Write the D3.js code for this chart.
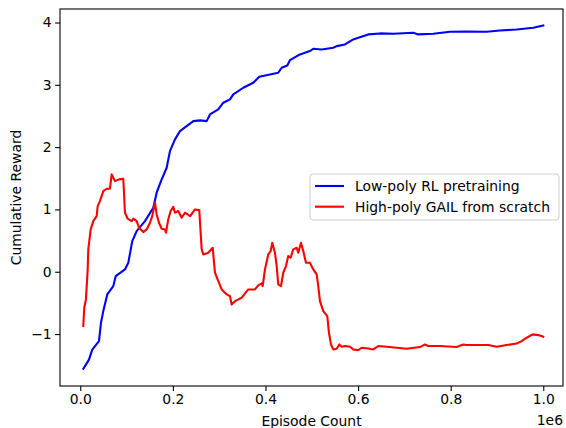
<!DOCTYPE html>
<html>
<head>
<meta charset="utf-8">
<script src="https://cdn.jsdelivr.net/npm/d3@7"></script>
<style>
  body { margin: 0; background: #fff; }
  svg text { font-family: "DejaVu Sans", sans-serif; fill: #000; }
</style>
</head>
<body>
<script>
// Episode count (x, in units of 1e6) and cumulative reward
const lowPolyX = [0.0065, 0.0188, 0.0259, 0.0404, 0.0447, 0.0497, 0.0583, 0.0713, 0.0765, 0.0965,
  0.1037, 0.1123, 0.1218, 0.1397, 0.1577, 0.165, 0.1743, 0.1866, 0.1937, 0.2045,
  0.2153, 0.2441, 0.2585, 0.273, 0.2801, 0.298, 0.3089, 0.3233, 0.3305, 0.352,
  0.3737, 0.3866, 0.4276, 0.435, 0.4471, 0.4529, 0.4745, 0.4961, 0.5032, 0.5214,
  0.5464, 0.5538, 0.5717, 0.5896, 0.6004, 0.622, 0.6473, 0.676, 0.7192, 0.73,
  0.7624, 0.7985, 0.8345, 0.8777, 0.9065, 0.9425, 0.9784, 1.0];
const lowPolyY = [-1.557, -1.41, -1.25, -1.114, -0.819, -0.632, -0.364, -0.231, -0.071, 0.037,
  0.144, 0.491, 0.652, 0.812, 1.027, 1.268, 1.454, 1.669, 1.936, 2.124,
  2.257, 2.417, 2.429, 2.417, 2.525, 2.605, 2.713, 2.766, 2.846, 2.953,
  3.034, 3.13, 3.194, 3.274, 3.311, 3.396, 3.488, 3.541, 3.579, 3.568,
  3.595, 3.621, 3.648, 3.729, 3.756, 3.809, 3.825, 3.82, 3.836, 3.809,
  3.82, 3.852, 3.857, 3.852, 3.873, 3.889, 3.916, 3.953];

const highPolyX = [0.0065, 0.0086, 0.0123, 0.016, 0.0173, 0.0225, 0.0281, 0.0354, 0.0376, 0.0425,
  0.0497, 0.057, 0.0641, 0.0678, 0.0713, 0.0749, 0.0836, 0.0929, 0.0965, 0.1024,
  0.111, 0.1145, 0.1218, 0.1268, 0.1361, 0.1434, 0.1505, 0.1555, 0.1613, 0.165,
  0.17, 0.1758, 0.1829, 0.1851, 0.19, 0.1952, 0.2009, 0.2045, 0.2117, 0.219,
  0.2261, 0.2374, 0.2477, 0.257, 0.2622, 0.2657, 0.2765, 0.286, 0.2909, 0.2981,
  0.3054, 0.3162, 0.3233, 0.327, 0.3341, 0.3486, 0.3628, 0.3773, 0.3844, 0.3918,
  0.394, 0.3989, 0.406, 0.4112, 0.4147, 0.4205, 0.4242, 0.4276, 0.4335, 0.4384,
  0.4443, 0.4492, 0.4544, 0.46, 0.4674, 0.4708, 0.4767, 0.4816, 0.4875, 0.4961,
  0.5032, 0.5106, 0.514, 0.5177, 0.5248, 0.5335, 0.5371, 0.5415, 0.5464, 0.5538,
  0.5594, 0.5646, 0.5717, 0.5825, 0.5896, 0.6004, 0.6078, 0.622, 0.6328, 0.6436,
  0.6618, 0.705, 0.7337, 0.7445, 0.7516, 0.7769, 0.8129, 0.8272, 0.8345, 0.8812,
  0.8993, 0.9209, 0.9425, 0.9533, 0.9641, 0.9771, 0.9892, 1.0];
const highPolyY = [-0.873, -0.578, -0.44, 0.037, 0.358, 0.679, 0.812, 0.893, 1.053, 1.134,
  1.294, 1.332, 1.332, 1.562, 1.509, 1.454, 1.482, 1.493, 0.947, 0.851,
  0.812, 0.851, 0.812, 0.706, 0.636, 0.679, 0.786, 0.893, 1.107, 0.92,
  0.786, 0.69, 0.679, 0.626, 0.84, 0.974, 1.043, 0.947, 0.974, 0.867,
  0.947, 0.893, 1.0, 0.989, 0.358, 0.278, 0.305, 0.385, -0.016, -0.151,
  -0.284, -0.364, -0.392, -0.525, -0.472, -0.417, -0.284, -0.284, -0.22, -0.188,
  -0.231, 0.037, 0.278, 0.331, 0.465, 0.305, 0.091, -0.204, -0.231, -0.016,
  0.091, 0.252, 0.225, 0.358, 0.385, 0.305, 0.465, 0.331, 0.144, 0.144,
  0.037, -0.043, -0.231, -0.472, -0.632, -0.713, -0.979, -1.167, -1.247, -1.236,
  -1.167, -1.204, -1.193, -1.204, -1.247, -1.258, -1.22, -1.231, -1.247, -1.193,
  -1.204, -1.236, -1.209, -1.167, -1.193, -1.193, -1.209, -1.167, -1.177, -1.177,
  -1.204, -1.177, -1.151, -1.113, -1.059, -1.006, -1.017, -1.043];

const seriesNames = ["Low-poly RL pretraining", "High-poly GAIL from scratch"];
const seriesColors = ["#0000ff", "#ff0000"];
const xTicks = [0.0, 0.2, 0.4, 0.6, 0.8, 1.0];
const yTicks = [-1, 0, 1, 2, 3, 4];

const W = 566, H = 428;
const plot = { left: 60, right: 563, top: 9, bottom: 386 };

const svg = d3.select('body').append('svg')
  .attr('width', W)
  .attr('height', H);

const x = d3.scaleLinear().domain([-0.0438, 1.0426]).range([plot.left, plot.right]);
const y = d3.scaleLinear().domain([-1.834, 4.217]).range([plot.bottom, plot.top]);

const series = [
  lowPolyX.map((v, i) => [v, lowPolyY[i]]),
  highPolyX.map((v, i) => [v, highPolyY[i]])
];

const line = d3.line().x(d => x(d[0])).y(d => y(d[1]));

svg.append('clipPath').attr('id', 'clip')
  .append('rect')
  .attr('x', plot.left).attr('y', plot.top)
  .attr('width', plot.right - plot.left).attr('height', plot.bottom - plot.top);

svg.append('g').attr('clip-path', 'url(#clip)')
  .selectAll('path')
  .data(series)
  .enter()
  .append('path')
  .attr('d', line)
  .attr('fill', 'none')
  .attr('stroke', (d, i) => seriesColors[i])
  .attr('stroke-width', 2.1)
  .attr('stroke-linejoin', 'round')
  .attr('stroke-linecap', 'square');

const fmtMinus = s => s.replace('-', '\u2212');

const xAxis = svg.append('g')
  .attr('transform', `translate(0,${plot.bottom})`)
  .call(d3.axisBottom(x).tickValues(xTicks).tickFormat(d3.format('.1f')).tickSize(4.9).tickPadding(3.5));
const yAxis = svg.append('g')
  .attr('transform', `translate(${plot.left},0)`)
  .call(d3.axisLeft(y).tickValues(yTicks).tickFormat(d => fmtMinus(String(d))).tickSize(4.9).tickPadding(3.5));

[xAxis, yAxis].forEach(g => {
  g.select('.domain').remove();
  g.selectAll('line').attr('stroke', '#000').attr('stroke-width', 1.1);
  g.selectAll('text').style('font-size', '13.9px').style('font-family', '"DejaVu Sans", sans-serif');
});

// spines
svg.append('rect')
  .attr('x', plot.left).attr('y', plot.top)
  .attr('width', plot.right - plot.left).attr('height', plot.bottom - plot.top)
  .attr('fill', 'none').attr('stroke', '#000').attr('stroke-width', 1.1);

svg.append('text')
  .attr('x', (plot.left + plot.right) / 2)
  .attr('y', 426)
  .attr('text-anchor', 'middle')
  .style('font-size', '13.9px')
  .text('Episode Count');

svg.append('text')
  .attr('x', plot.right)
  .attr('y', 425)
  .attr('text-anchor', 'end')
  .style('font-size', '13.9px')
  .text('1e6');

svg.append('text')
  .attr('transform', `translate(21,${(plot.top + plot.bottom) / 2}) rotate(-90)`)
  .attr('text-anchor', 'middle')
  .style('font-size', '13.9px')
  .text('Cumulative Reward');

// legend
const legend = svg.append('g').attr('transform', 'translate(310,174)');
legend.append('rect')
  .attr('width', 249).attr('height', 46)
  .attr('rx', 3)
  .attr('fill', '#fff').attr('fill-opacity', 0.8)
  .attr('stroke', '#cccccc').attr('stroke-width', 1);

seriesNames.forEach((name, i) => {
  const ly = 12 + i * 20.7;
  legend.append('line')
    .attr('x1', 5).attr('x2', 34)
    .attr('y1', ly).attr('y2', ly)
    .attr('stroke', seriesColors[i]).attr('stroke-width', 2.1);
  legend.append('text')
    .attr('x', 45).attr('y', ly + 5)
    .style('font-size', '13.9px')
    .text(name);
});
</script>
</body>
</html>
